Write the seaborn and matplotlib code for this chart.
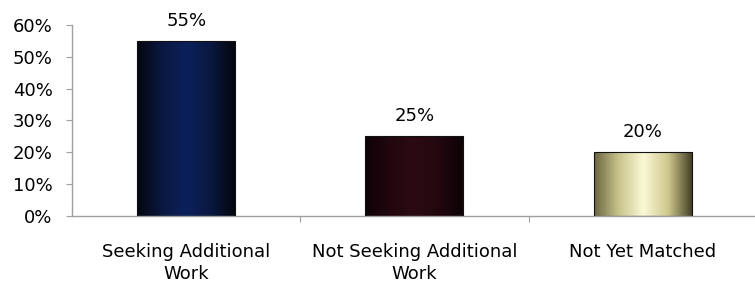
import numpy as np
import pandas as pd
import seaborn as sns
import matplotlib.pyplot as plt
from matplotlib.colors import LinearSegmentedColormap
from matplotlib.ticker import PercentFormatter, FixedLocator

# Data
categories = ['Seeking Additional\nWork', 'Not Seeking Additional\nWork', 'Not Yet Matched']
shares = [0.55, 0.25, 0.20]
value_labels = ['55%', '25%', '20%']

# Cylinder-like shading for each bar (edge -> centre -> edge)
bar_shades = [
    ['#05070d', '#0a1840', '#0c215c', '#0a1840', '#04060b'],
    ['#0d0306', '#22070f', '#2c0a14', '#22070f', '#0b0305'],
    ['#6a6540', '#c9c48c', '#fbf8d6', '#cfc88e', '#3f3b22'],
]

sns.set_style('white')
plt.rcParams['font.family'] = ['DejaVu Sans']

df = pd.DataFrame({'category': categories, 'share': shares})

fig = plt.figure(figsize=(7.55, 2.86), dpi=100)
ax = fig.add_axes([0.0954, 0.245, 0.907, 0.668])

sns.barplot(data=df, x='category', y='share', width=0.43, color='white', ax=ax)

# Replace flat fills with horizontal gradients clipped to each bar
for patch, shades, label in zip(ax.patches, bar_shades, value_labels):
    x0, y0 = patch.get_x(), patch.get_y()
    w, h = patch.get_width(), patch.get_height()
    cmap = LinearSegmentedColormap.from_list('shade', shades)
    grad = np.linspace(0, 1, 256).reshape(1, -1)
    im = ax.imshow(grad, cmap=cmap, aspect='auto', extent=[x0, x0 + w, y0, y0 + h],
                   zorder=2, interpolation='bicubic')
    im.set_clip_path(patch)
    patch.set_facecolor('none')
    patch.set_edgecolor('#111111')
    patch.set_linewidth(0.8)
    patch.set_zorder(3)
    ax.annotate(label, (x0 + w / 2, y0 + h), xytext=(0, 8), textcoords='offset points',
                ha='center', va='bottom', fontsize=13, color='black')

ax.set_xlim(-0.5, 2.5)
ax.set_ylim(0, 0.6)
ax.set_yticks(np.arange(0, 0.61, 0.1))
ax.yaxis.set_major_formatter(PercentFormatter(1.0, decimals=0))
ax.xaxis.set_minor_locator(FixedLocator([0.5, 1.5]))
ax.set_xlabel('')
ax.set_ylabel('')

for side in ['top', 'right']:
    ax.spines[side].set_visible(False)
for side in ['left', 'bottom']:
    ax.spines[side].set_color('#a0a0a0')
    ax.spines[side].set_linewidth(1.0)

ax.tick_params(axis='y', which='major', left=True, length=4, width=0.8, color='#a0a0a0',
               labelsize=13, labelcolor='black', pad=10)
ax.tick_params(axis='x', which='major', bottom=False, labelsize=13, labelcolor='black', pad=16)
ax.tick_params(axis='x', which='minor', bottom=True, length=4, width=0.8, color='#a0a0a0')
for lbl in ax.get_xticklabels():
    lbl.set_multialignment('center')
    lbl.set_linespacing(1.3)

plt.savefig('out.png', dpi=100)
